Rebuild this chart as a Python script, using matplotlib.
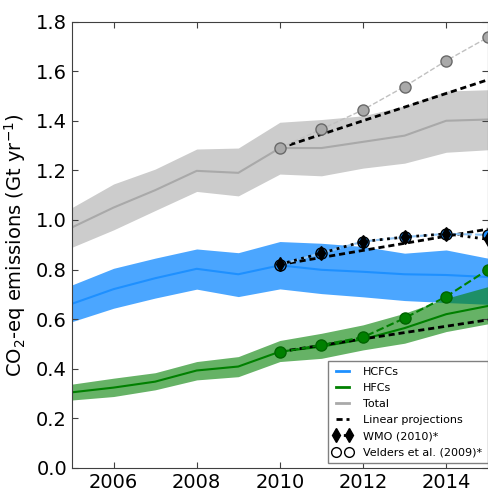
import matplotlib
matplotlib.use("Agg")
import matplotlib.pyplot as plt
from matplotlib.lines import Line2D

years = [2005, 2006, 2007, 2008, 2009, 2010, 2011, 2012, 2013, 2014, 2015]

total_mid = [0.97, 1.05, 1.12, 1.198, 1.19, 1.29, 1.29, 1.315, 1.34, 1.40, 1.405]
total_hi = [1.05, 1.145, 1.205, 1.286, 1.29, 1.394, 1.405, 1.42, 1.46, 1.52, 1.525]
total_lo = [0.89, 0.96, 1.038, 1.115, 1.097, 1.185, 1.178, 1.209, 1.229, 1.273, 1.283]

hcfc_mid = [0.662, 0.721, 0.765, 0.803, 0.781, 0.817, 0.799, 0.791, 0.781, 0.778, 0.770]
hcfc_hi = [0.738, 0.805, 0.846, 0.883, 0.868, 0.913, 0.906, 0.893, 0.866, 0.879, 0.846]
hcfc_lo = [0.590, 0.644, 0.685, 0.721, 0.691, 0.722, 0.703, 0.690, 0.675, 0.667, 0.660]

hfc_mid = [0.305, 0.324, 0.348, 0.393, 0.409, 0.469, 0.489, 0.519, 0.564, 0.620, 0.653]
hfc_hi = [0.338, 0.362, 0.384, 0.429, 0.449, 0.514, 0.543, 0.577, 0.624, 0.684, 0.731]
hfc_lo = [0.274, 0.288, 0.315, 0.355, 0.368, 0.429, 0.442, 0.476, 0.503, 0.550, 0.581]

# Velders et al. (2009) scenarios, 2010-2015
proj_years = [2010, 2011, 2012, 2013, 2014, 2015]
velders_total = [1.29, 1.366, 1.444, 1.538, 1.642, 1.736]
velders_hcfc = [0.82, 0.866, 0.913, 0.931, 0.944, 0.94]
velders_hfc = [0.467, 0.496, 0.527, 0.604, 0.691, 0.799]

# WMO (2010) HCFC scenario
wmo_hcfc = [0.821, 0.866, 0.913, 0.931, 0.944, 0.922]

# linear projections: (start 2010, end 2015)
lin_years = [2010, 2015]
lin_total = [1.29, 1.565]
lin_hcfc = [0.82, 0.963]
lin_hfc = [0.469, 0.597]

LIN_DASH = (2.2, 1.4)

plt.rcParams["font.family"] = ["DejaVu Sans"]
fig = plt.figure(figsize=(4.88, 4.90), dpi=100)
ax = fig.add_axes([0.1475, 0.045, 0.852, 0.911])

ax.fill_between(years, total_lo, total_hi, color="gray", alpha=0.4, linewidth=0)
ax.plot(years, total_mid, color="darkgray", linewidth=1.5)
ax.fill_between(years, hcfc_lo, hcfc_hi, color="dodgerblue", alpha=0.8, linewidth=0)
ax.plot(years, hcfc_mid, color="dodgerblue", linewidth=1.5)
ax.fill_between(years, hfc_lo, hfc_hi, color="green", alpha=0.6, linewidth=0)
ax.plot(years, hfc_mid, color="green", linewidth=1.5)

for vals in (lin_total, lin_hcfc, lin_hfc):
    ax.plot(lin_years, vals, color="black", linestyle="--", dashes=LIN_DASH, linewidth=2, zorder=3)

ax.plot(proj_years, velders_total, "--", color="#c0c0c0", linewidth=1, zorder=4)
ax.plot(proj_years, velders_total, "o", mfc="darkgray", mec="dimgray", markersize=8, zorder=5)
ax.plot(proj_years, velders_hcfc, "--", color="#8ec4f5", linewidth=1.5, zorder=4)
ax.plot(proj_years, velders_hcfc, "o", mfc="dodgerblue", mec="black", markersize=8, zorder=5)
ax.plot(proj_years, velders_hfc, "--", color="green", linewidth=1.5, zorder=4)
ax.plot(proj_years, velders_hfc, "o", mfc="green", mec="darkgreen", markersize=8, zorder=5)

ax.plot(proj_years, wmo_hcfc, "k:", marker="d", markersize=7, linewidth=2, zorder=6)

ax.set_xlim(2005, 2015)
ax.set_ylim(0.0, 1.8)
ax.set_xticks([2006, 2008, 2010, 2012, 2014])
ax.set_yticks([0.0, 0.2, 0.4, 0.6, 0.8, 1.0, 1.2, 1.4, 1.6, 1.8])
ax.tick_params(direction="in", top=True, right=True, labelsize=14, length=4, color="#404040")
for spine in ax.spines.values():
    spine.set_color("#404040")
ax.set_ylabel("CO$_2$-eq emissions (Gt yr$^{-1}$)", fontsize=14, labelpad=6)

handles = [
    Line2D([], [], color="dodgerblue", linewidth=2),
    Line2D([], [], color="green", linewidth=2),
    Line2D([], [], color="darkgray", linewidth=2),
    Line2D([], [], color="black", linestyle="--", dashes=LIN_DASH, linewidth=2),
    Line2D([], [], color="black", linestyle=":", linewidth=2, marker="d", markersize=7),
    Line2D([], [], linestyle="none", marker="o", mfc="white", mec="black", markersize=7),
]
labels = ["HCFCs", "HFCs", "Total", "Linear projections", "WMO (2010)*", "Velders et al. (2009)*"]
leg = ax.legend(handles, labels, loc="lower right", fontsize=8, numpoints=2,
                handlelength=1.7, handletextpad=1.0, fancybox=False, framealpha=1,
                borderpad=0.5, labelspacing=0.55, borderaxespad=0,
                bbox_to_anchor=(1.0, 0.011))
leg.get_frame().set_edgecolor("#808080")

fig.savefig("out.png", dpi=100)
